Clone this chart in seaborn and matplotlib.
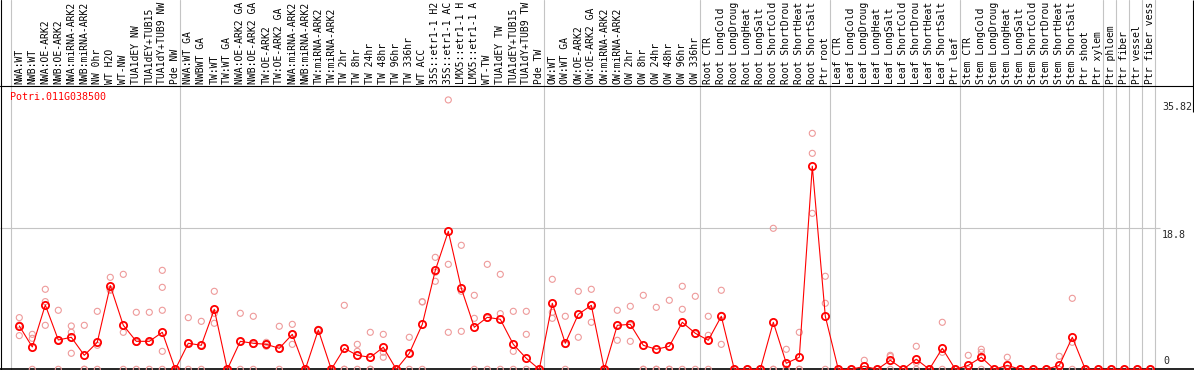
import numpy as np
import pandas as pd
import matplotlib
matplotlib.use("Agg")
import matplotlib.pyplot as plt
import seaborn as sns

gene = "Potri.011G038500"

# sample labels as they are visible in the chart header
samples = [
    "NWA:WT", "NWB:WT", "NWA:OE-ARK2", "NWB:OE-ARK2", "NWA:miRNA-ARK2", "NWB:miRNA-ARK2",
    "NW 0hr", "WT H2O", "WT-NW", "TUA1dEY NW", "TUA1dEY+TUB15", "TUA1dY+TUB9 NW", "Pde NW",
    "NWA:WT GA", "NWBWT GA", "TW:WT", "TW:WT GA", "NWA:OE-ARK2 GA", "NWB:OE-ARK2 GA",
    "TW:OE-ARK2", "TW:OE-ARK2 GA", "NWA:miRNA-ARK2", "NWB:miRNA-ARK2", "TW:miRNA-ARK2",
    "TW:miRNA-ARK2", "TW 2hr", "TW 8hr", "TW 24hr", "TW 48hr", "TW 96hr", "TW 336hr",
    "WT ACC", "35S::etr1-1 H2", "35S::etr1-1 AC", "LMX5::etr1-1 H", "LMX5::etr1-1 A",
    "WT-TW", "TUA1dEY TW", "TUA1dEY+TUB15", "TUA1dY+TUB9 TW", "Pde TW",
    "OW:WT", "OW:WT GA", "OW:OE-ARK2", "OW:OE-ARK2 GA", "OW:miRNA-ARK2", "OW:miRNA-ARK2",
    "OW 2hr", "OW 8hr", "OW 24hr", "OW 48hr", "OW 96hr", "OW 336hr",
    "Root CTR", "Root LongCold", "Root LongDroug", "Root LongHeat", "Root LongSalt",
    "Root ShortCold", "Root ShortDrou", "Root ShortHeat", "Root ShortSalt", "Ptr root",
    "Leaf CTR", "Leaf LongCold", "Leaf LongDroug", "Leaf LongHeat", "Leaf LongSalt",
    "Leaf ShortCold", "Leaf ShortDrou", "Leaf ShortHeat", "Leaf ShortSalt", "Ptr leaf",
    "Stem CTR", "Stem LongCold", "Stem LongDroug", "Stem LongHeat", "Stem LongSalt",
    "Stem ShortCold", "Stem ShortDrou", "Stem ShortHeat", "Stem ShortSalt", "Ptr shoot",
    "Ptr xylem", "Ptr phloem", "Ptr fiber", "Ptr vessel", "Ptr fiber vess",
]

means = [
    5.76, 2.97, 8.55, 3.90, 4.26, 1.86, 3.59, 11.13, 5.85, 3.72, 3.72, 4.92, 0.0,
    3.46, 3.19, 7.98, 0.0, 3.72, 3.46, 3.32, 2.79, 4.65, 0.0, 5.23, 0.0, 2.79, 1.86,
    1.60, 2.93, 0.0, 2.13, 5.98, 13.16, 18.35, 10.77, 5.59, 6.91, 6.65, 3.32, 1.46, 0.0,
    8.78, 3.46, 7.31, 8.51, 0.0, 5.85, 5.98, 3.19, 2.66, 3.06, 6.25, 4.79,
    3.86, 7.05, 0.0, 0.0, 0.0, 6.25, 0.80, 1.60, 27.0, 7.05,
    0.0, 0.0, 0.40, 0.0, 1.20, 0.0, 1.33, 0.0, 2.79, 0.0,
    0.53, 1.60, 0.0, 0.53, 0.0, 0.0, 0.0, 0.53, 4.26, 0.0,
    0.0, 0.0, 0.0, 0.0, 0.0,
]

replicates = [
    [6.87, 5.9, 4.48], [4.65, 4.12, 0], [10.64, 9.0, 5.85], [7.85, 3.85, 0],
    [5.76, 4.92, 2.13], [5.85, 0, 0], [7.71, 3.19, 0], [12.23, 10.64, 10.5],
    [12.63, 4.92, 0], [7.58, 3.58, 0], [7.58, 3.58, 0], [13.16, 10.9, 7.85, 2.39, 0],
    [0, 0, 0],
    [6.87, 3.5, 0], [6.38, 3.2, 0], [10.37, 7.45, 6.12], [0, 0, 0], [7.45, 3.7, 0],
    [7.05, 3.3, 0], [3.59, 3.32, 3.06], [5.72, 2.65, 0], [5.98, 4.65, 3.32], [0, 0, 0],
    [5.32, 5.2, 5.17], [0, 0, 0], [8.51, 0, 0], [3.32, 2.39, 0], [4.92, 0, 0],
    [4.65, 2.26, 1.6], [0, 0, 0], [4.26, 2.1, 0], [8.95, 9.0, 0], [14.89, 12.9, 11.7],
    [35.82, 13.96, 4.92], [16.49, 10.37, 5.05], [9.84, 6.78, 0], [13.96, 6.8, 0],
    [12.63, 7.4, 0], [7.71, 2.39, 0], [7.71, 4.65, 0], [0, 0, 0],
    [11.97, 7.58, 6.78], [7.05, 3.3, 0], [10.37, 7.3, 4.26], [10.64, 8.6, 6.25],
    [0, 0, 0], [7.85, 5.85, 3.86], [8.38, 5.85, 3.72], [9.84, 0, 0], [8.24, 0, 0],
    [9.18, 0, 0], [11.04, 7.98, 0], [9.71, 4.7, 0],
    [7.05, 4.52, 0], [10.51, 7.18, 3.32], [0, 0, 0], [0, 0, 0], [0, 0, 0],
    [18.75, 0, 0], [2.66, 0, 0], [4.92, 0, 0], [31.38, 28.72, 20.74], [12.37, 8.78, 0],
    [0, 0, 0], [0, 0, 0], [1.2, 0, 0], [0, 0, 0], [1.86, 1.7, 0], [0, 0, 0],
    [3.06, 0.9, 0], [0, 0, 0], [6.25, 2.26, 0], [0, 0, 0],
    [1.86, 0, 0], [2.66, 2.26, 0], [0, 0, 0], [1.6, 0, 0], [0, 0, 0], [0, 0, 0],
    [0, 0, 0], [1.73, 0, 0], [9.44, 3.59, 0], [0, 0, 0],
    [0, 0, 0], [0, 0, 0], [0, 0, 0], [0, 0, 0], [0, 0, 0],
]

# index of last sample before each gray separator (-1 = before the first sample)
separators_after = [-1, 12, 40, 52, 62, 72, 83, 84, 85, 86, 87]
y_labels = [0, 18.8, 35.82]
y_grid = [18.8]

sns.set_theme(style="white")
plt.rcParams['font.family'] = ['DejaVu Sans Mono', 'DejaVu Sans']

W, H = 1194, 370
fig = plt.figure(figsize=(W / 100, H / 100), dpi=100)
ax = fig.add_axes([0, 0, 1, 1])

# pixel layout of the sample columns / value scale
x0, dx = 19.3, 13.0
y0, dy = 369.3, 7.52

def px_x(px):
    return (px - x0) / dx

def px_y(py):
    return (y0 - py) / dy

FS = 7.0
GRAY = '#c4c4c4'

# separators
for k in separators_after:
    ax.axvline(k + 0.36, color=GRAY, lw=0.8, zorder=1)
for g in y_grid:
    ax.hlines(g, px_x(0), px_x(1160), color=GRAY, lw=0.8, zorder=1)

# frame lines
ax.axvline(px_x(1), color='black', lw=0.8, zorder=2)
ax.axhline(px_y(86), color='black', lw=0.8, zorder=2)
ax.axhline(0, color='black', lw=1.2, zorder=2)
ax.vlines(px_x(1193), px_y(112), px_y(0), color='black', lw=0.8, zorder=2)

# replicate points
rep_x, rep_y = [], []
for i, vals in enumerate(replicates):
    for v in vals:
        rep_x.append(i)
        rep_y.append(v)
rep_df = pd.DataFrame({"x": rep_x, "y": rep_y})
sns.scatterplot(data=rep_df, x="x", y="y", ax=ax, marker='o', s=19,
                facecolors='none', edgecolor='#ee9a9a', linewidth=0.8,
                zorder=3, legend=False)

# mean line
mean_df = pd.DataFrame({"x": np.arange(len(means)), "y": means})
sns.lineplot(data=mean_df, x="x", y="y", ax=ax, color='red', lw=0.8,
             marker='o', markersize=5.2, markerfacecolor='none',
             markeredgecolor='red', markeredgewidth=1.3, errorbar=None,
             zorder=4, legend=False)
ax.set_xlim(px_x(0), px_x(W))
ax.set_ylim(px_y(H), px_y(0))
ax.axis('off')

# sample labels (rotated)
for i, lab in enumerate(samples):
    ax.text(i, px_y(84), lab, rotation=90, ha='center', va='bottom',
            fontsize=FS, color='black')

# gene name
ax.text(px_x(9.5), px_y(92.5), gene, color='red', ha='left', va='top', fontsize=7.2)

# value labels on the right
for v in y_labels:
    if v == 0:
        ax.text(px_x(1163), px_y(365.5), "0", ha='left', va='bottom', fontsize=7.2)
    else:
        ax.text(px_x(1162), v - 2.2 / dy, f"{v:g}", ha='left', va='top', fontsize=7.2)

fig.savefig("out.png", dpi=100)
